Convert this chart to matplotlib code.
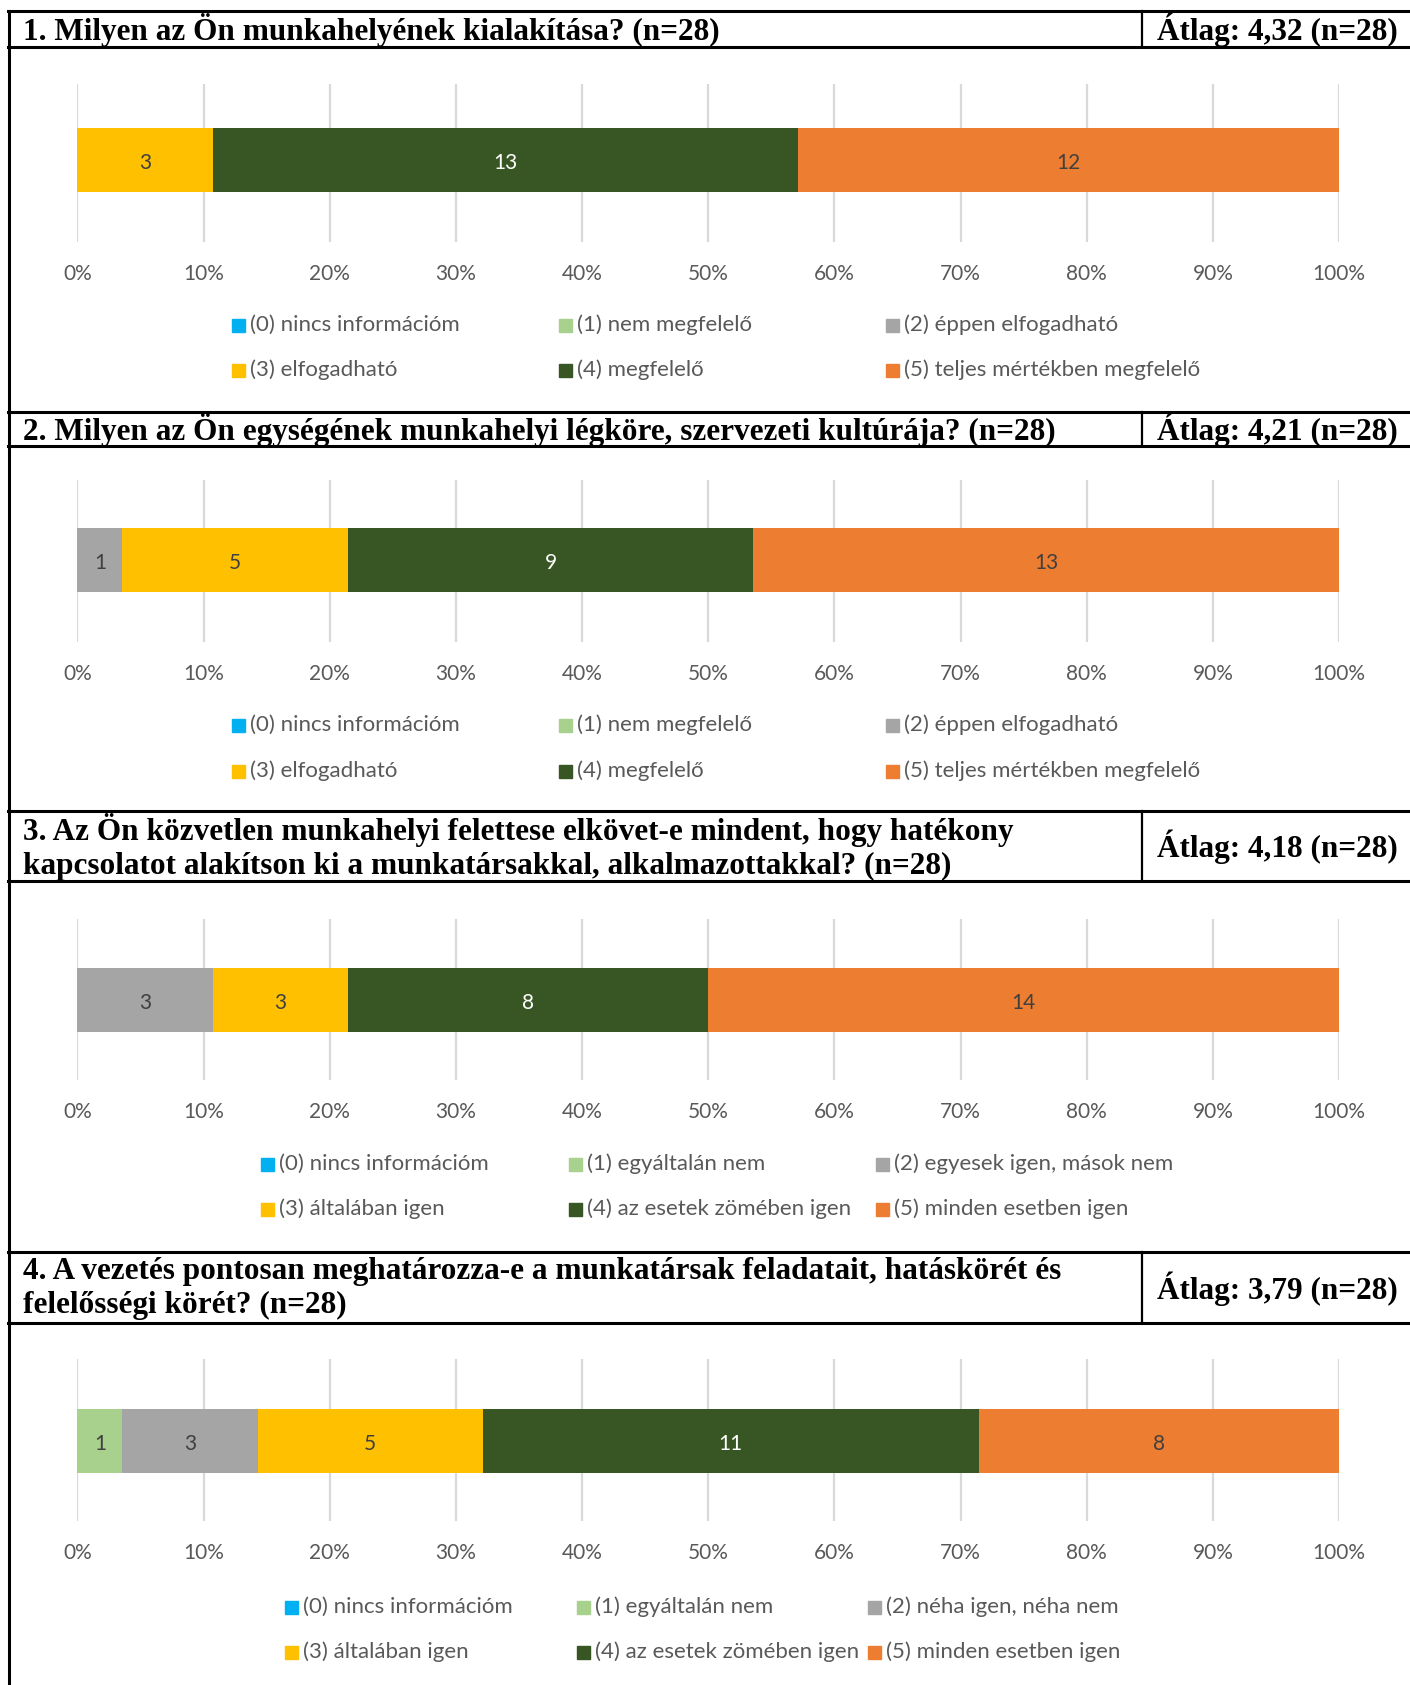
import matplotlib
matplotlib.use('Agg')
import matplotlib.pyplot as plt
from matplotlib.patches import Rectangle
from matplotlib.lines import Line2D

# data
titles = ['1. Milyen az Ön munkahelyének kialakítása? (n=28)',
          '2. Milyen az Ön egységének munkahelyi légköre, szervezeti kultúrája? (n=28)',
          '3. Az Ön közvetlen munkahelyi felettese elkövet-e mindent, hogy hatékony\nkapcsolatot alakítson ki a munkatársakkal, alkalmazottakkal? (n=28)',
          '4. A vezetés pontosan meghatározza-e a munkatársak feladatait, hatáskörét és\nfelelősségi körét? (n=28)']
atlag = ['Átlag: 4,32 (n=28)', 'Átlag: 4,21 (n=28)', 'Átlag: 4,18 (n=28)', 'Átlag: 3,79 (n=28)']

q1 = [0, 0, 0, 3, 13, 12]
q2 = [0, 0, 1, 5, 9, 13]
q3 = [0, 0, 3, 3, 8, 14]
q4 = [0, 1, 3, 5, 11, 8]

labels_a = ['(0) nincs információm', '(1) nem megfelelő', '(2) éppen elfogadható',
            '(3) elfogadható', '(4) megfelelő', '(5) teljes mértékben megfelelő']
labels_b = ['(0) nincs információm', '(1) egyáltalán nem', '(2) egyesek igen, mások nem',
            '(3) általában igen', '(4) az esetek zömében igen', '(5) minden esetben igen']
labels_c = ['(0) nincs információm', '(1) egyáltalán nem', '(2) néha igen, néha nem',
            '(3) általában igen', '(4) az esetek zömében igen', '(5) minden esetben igen']

tick_pos = [0, 10, 20, 30, 40, 50, 60, 70, 80, 90, 100]
tick_labels = ['0%', '10%', '20%', '30%', '40%', '50%', '60%', '70%', '80%', '90%', '100%']

colors = ['#00B0F0', '#A9D18E', '#A5A5A5', '#FFC000', '#375623', '#ED7D31']
lab_colors = ['#404040', '#404040', '#404040', '#404040', 'white', '#404040']

# layout (pixels)
W, H = 1410, 1685
headers = [(11, 47), (412, 446), (811, 881), (1252, 1323)]
grids = [(84, 242), (480, 642), (919, 1080), (1359, 1521)]
bar_c = [160, 560, 1000, 1441]
bar_h = 64
leg_cols = [(232, 559, 886), (232, 559, 886), (261, 569, 876), (285, 577, 868)]
leg_rows = [(325, 370), (725, 771), (1164, 1209), (1607, 1652)]
x0, x1 = 77.4, 1339
sep = 1142

def fx(x):
    return x / W

def fy(y):
    return 1 - y / H

fig = plt.figure(figsize=(W / 100, H / 100), dpi=100)

serif = ['Liberation Serif', 'DejaVu Serif']
sans = ['Lato', 'DejaVu Sans']
grey = '#595959'

data = [q1, q2, q3, q4]
legends = [labels_a, labels_a, labels_b, labels_c]

def hline(y):
    fig.add_artist(Line2D([fx(8), 1], [fy(y), fy(y)], color='black', lw=2.2,
                          transform=fig.transFigure))

# left border
fig.add_artist(Line2D([fx(9), fx(9)], [fy(headers[0][0]), 0], color='black', lw=2.2,
                      transform=fig.transFigure))

for i in range(4):
    top, bot = headers[i]
    hline(top)
    hline(bot)
    fig.add_artist(Line2D([fx(sep), fx(sep)], [fy(top), fy(bot)], color='black', lw=1.6,
                          transform=fig.transFigure))
    mid = (top + bot) / 2 + 1
    fig.text(fx(23), fy(mid), titles[i], ha='left', va='center', fontsize=22.5,
             fontweight='bold', family=serif, linespacing=1.22)
    fig.text(fx(1157), fy(mid), atlag[i], ha='left', va='center', fontsize=22.5,
             fontweight='bold', family=serif)

    gt, gb = grids[i]
    ax = fig.add_axes([fx(x0), fy(gb), fx(x1) - fx(x0), (gb - gt) / H])
    vals = data[i]
    n = sum(vals)
    left = 0
    for k in range(6):
        w = vals[k] / n * 100
        ax.barh(0, w, left=left, height=1.0, color=colors[k], zorder=3)
        if vals[k] > 0:
            ax.text(left + w / 2, -0.04, str(vals[k]), ha='center', va='center',
                    color=lab_colors[k], fontsize=15, family=sans, zorder=4)
        left += w
    ax.set_xlim(0, 100)
    ax.set_ylim(-(gb - bar_c[i]) / bar_h, (bar_c[i] - gt) / bar_h)
    ax.set_xticks(tick_pos)
    ax.set_xticklabels(tick_labels, fontsize=15, color=grey, family=sans)
    ax.tick_params(axis='x', length=0, pad=16)
    ax.set_yticks([])
    ax.grid(axis='x', color='#D9D9D9', lw=1.6, zorder=0)
    for s in ax.spines.values():
        s.set_visible(False)

    # legend
    labs = legends[i]
    for k in range(6):
        cx = leg_cols[i][k % 3]
        cy = leg_rows[i][k // 3]
        fig.add_artist(Rectangle((fx(cx), fy(cy + 7)), 13 / W, 13 / H,
                                 color=colors[k], transform=fig.transFigure))
        fig.text(fx(cx + 18), fy(cy), labs[k], ha='left', va='center',
                 fontsize=16, color=grey, family=sans)

fig.savefig('out.png', dpi=100)
